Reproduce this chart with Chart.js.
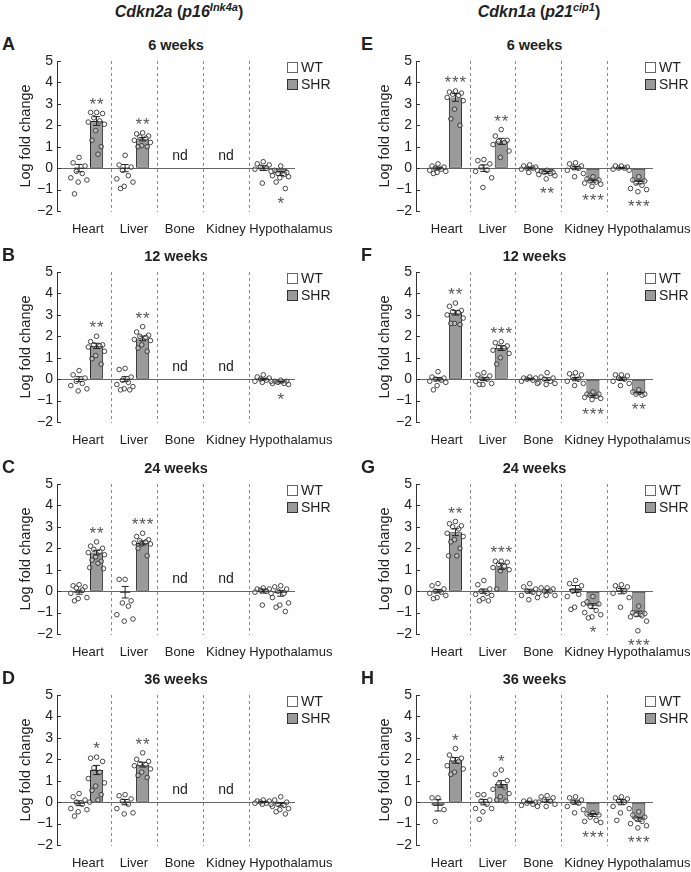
<!DOCTYPE html>
<html>
<head>
<meta charset="utf-8">
<script src="https://cdn.jsdelivr.net/npm/chart.js@4.4.1/dist/chart.umd.min.js"></script>
<style>
body { margin: 0; background: #fff; font-family: "Liberation Sans", Arial, Helvetica, sans-serif; color: #222; }
#page { position: relative; width: 691px; height: 872px; overflow: hidden; }
canvas { position: absolute; }
.lbl { position: absolute; line-height: 1; white-space: nowrap; }
.head { font-size: 16px; font-weight: bold; transform: translateX(-50%); }
.head sup { font-size: 11px; vertical-align: 6px; line-height: 0; }
.letter { font-size: 18px; font-weight: bold; }
.title { font-size: 14.5px; font-weight: bold; transform: translateX(-50%); }
</style>
</head>
<body>
<div id="page"></div>
<script>
const tissues = ["Heart", "Liver", "Bone", "Kidney", "Hypothalamus"];
const yTicks = [-2, -1, 0, 1, 2, 3, 4, 5];

// A - Cdkn2a, 6 weeks
const aWtMean = [0, 0, null, null, 0];
const aShrMean = [2.2, 1.35, null, null, -0.25];
const aWtPts = [
  [0.5, 0.25, 0.1, -0.15, -0.25, -0.45, -0.55, -0.65, -1.2],
  [0.6, 0.15, 0.05, -0.1, -0.35, -0.5, -0.65, -0.85, -0.95],
  null, null,
  [0.3, 0.2, 0.15, 0.05, 0, -0.05, -0.15, -0.7]
];
const aShrPts = [
  [2.6, 2.6, 2.55, 2.35, 2.2, 2.15, 2.05, 1.75, 1.3, 1.0, 0.65],
  [1.65, 1.6, 1.5, 1.45, 1.4, 1.3, 1.2, 1.05, 1.0, 1.0],
  null, null,
  [0.1, -0.1, -0.2, -0.25, -0.3, -0.35, -0.4, -0.45, -0.65, -0.95]
];
const aStars = ["**", "**", "", "", "*"];

// B - Cdkn2a, 12 weeks
const bWtMean = [0, 0, null, null, 0];
const bShrMean = [1.55, 1.9, null, null, -0.15];
const bWtPts = [
  [0.4, 0.2, 0.05, -0.1, -0.2, -0.3, -0.45, -0.55],
  [0.5, 0.45, 0.1, -0.05, -0.15, -0.25, -0.35, -0.45, -0.5, -0.5],
  null, null,
  [0.2, 0.1, 0.05, 0, -0.05, -0.1, -0.1, -0.15]
];
const bShrPts = [
  [2.0, 1.75, 1.6, 1.6, 1.55, 1.5, 1.3, 1.1, 0.95, 0.7],
  [2.45, 2.2, 2.05, 2.0, 1.95, 1.85, 1.8, 1.6, 1.45, 1.3],
  null, null,
  [-0.05, -0.1, -0.1, -0.15, -0.2, -0.2, -0.25]
];
const bStars = ["**", "**", "", "", "*"];

// C - Cdkn2a, 24 weeks
const cWtMean = [-0.05, -0.05, null, null, 0];
const cShrMean = [1.8, 2.25, null, null, -0.1];
const cWtPts = [
  [0.3, 0.25, 0.2, 0.15, 0.05, -0.1, -0.3, -0.35, -0.45],
  [0.55, 0.55, -0.45, -0.55, -0.7, -1.1, -1.3, -1.4],
  null, null,
  [0.15, 0.1, 0.1, 0.05, 0, -0.05, -0.1, -0.65]
];
const cShrPts = [
  [2.3, 2.1, 2.0, 1.95, 1.85, 1.8, 1.7, 1.6, 1.45, 1.4, 1.3, 1.1, 1.05],
  [2.7, 2.55, 2.4, 2.35, 2.3, 2.25, 2.2, 2.2, 2.0, 1.65],
  null, null,
  [0.25, 0.2, 0.1, 0, -0.1, -0.3, -0.55, -0.65, -0.75, -0.95]
];
const cStars = ["**", "***", "", "", ""];

// D - Cdkn2a, 36 weeks
const dWtMean = [-0.05, 0, null, null, 0];
const dShrMean = [1.5, 1.75, null, null, -0.1];
const dWtPts = [
  [0.4, 0.25, 0.1, 0, -0.1, -0.3, -0.35, -0.45, -0.65],
  [0.35, 0.3, 0.15, 0.05, -0.1, -0.3, -0.5, -0.55],
  null, null,
  [0.1, 0.05, 0.05, 0, -0.05, -0.05, -0.1, -0.1]
];
const dShrPts = [
  [2.1, 2.05, 1.9, 1.6, 1.4, 1.1, 0.9, 0.75, 0.55, 0.35, 0.1, 0],
  [2.3, 2.0, 1.9, 1.8, 1.75, 1.7, 1.55, 1.4, 1.25, 1.15],
  null, null,
  [0.25, 0.1, 0, -0.1, -0.15, -0.2, -0.3, -0.35, -0.45, -0.55]
];
const dStars = ["*", "**", "", "", ""];

// E - Cdkn1a, 6 weeks
const eWtMean = [0, 0, 0, 0, 0];
const eShrMean = [3.3, 1.25, -0.2, -0.6, -0.65];
const eWtPts = [
  [0.2, 0.1, 0.05, 0, -0.05, -0.1, -0.15, -0.2, -0.25],
  [0.4, 0.35, 0.2, 0.05, -0.1, -0.15, -0.45, -0.9],
  [0.15, 0.1, 0.05, 0, 0, -0.05, -0.1, -0.2],
  [0.25, 0.2, 0.1, 0.05, 0, -0.1, -0.25, -0.4],
  [0.1, 0.1, 0.05, 0, 0, -0.05, -0.1]
];
const eShrPts = [
  [3.6, 3.55, 3.5, 3.45, 3.4, 3.3, 3.15, 2.75, 2.3, 2.0],
  [1.8, 1.5, 1.3, 1.25, 1.2, 1.1, 0.8, 0.5],
  [-0.1, -0.15, -0.2, -0.2, -0.25, -0.3, -0.35, -0.5],
  [-0.4, -0.5, -0.55, -0.6, -0.65, -0.7, -0.75, -0.85],
  [-0.4, -0.55, -0.6, -0.7, -0.8, -0.95, -1.0, -1.1]
];
const eStars = ["***", "**", "**", "***", "***"];

// F - Cdkn1a, 12 weeks
const fWtMean = [0, 0, 0, 0, 0];
const fShrMean = [3.1, 1.45, 0, -0.8, -0.65];
const fWtPts = [
  [0.35, 0.1, 0.05, 0, -0.05, -0.1, -0.15, -0.3, -0.5],
  [0.3, 0.2, 0.15, 0.05, 0, -0.1, -0.2, -0.25, -0.25],
  [0.1, 0.05, 0.05, 0, -0.05, -0.1, -0.2],
  [0.3, 0.25, 0.2, 0.1, 0, -0.1, -0.2, -0.3],
  [0.2, 0.2, 0.15, 0.05, 0, -0.1, -0.2, -0.3]
];
const fShrPts = [
  [3.55, 3.4, 3.2, 3.15, 3.1, 3.0, 2.85, 2.6, 2.6, 2.55],
  [1.75, 1.7, 1.55, 1.5, 1.45, 1.35, 1.2, 1.0, 0.7],
  [0.3, 0.1, 0.05, 0, -0.1, -0.15, -0.2, -0.25],
  [-0.6, -0.7, -0.7, -0.75, -0.8, -0.85, -0.9, -0.95],
  [-0.5, -0.6, -0.7, -0.7, -0.75]
];
const fStars = ["**", "***", "", "***", "**"];

// G - Cdkn1a, 24 weeks
const gWtMean = [0, 0, 0, 0.1, 0];
const gShrMean = [2.75, 1.15, 0, -0.7, -1.05];
const gWtPts = [
  [0.35, 0.25, 0.1, 0, -0.05, -0.1, -0.2, -0.3, -0.35],
  [0.5, 0.3, 0.1, 0, -0.1, -0.15, -0.2, -0.35, -0.45, -0.45],
  [0.35, 0.2, 0.1, 0, -0.05, -0.2, -0.3, -0.4],
  [0.5, 0.35, 0.25, 0, -0.15, -0.25, -0.6, -0.75, -0.85],
  [0.3, 0.25, 0.2, 0.1, 0, -0.1, -0.3, -0.75]
];
const gShrPts = [
  [3.25, 3.15, 3.05, 3.0, 2.9, 2.7, 2.55, 2.4, 2.3, 2.0, 1.65, 1.65],
  [1.4, 1.4, 1.35, 1.25, 1.15, 1.1, 1.0, 0.95, 0.1],
  [0.15, 0.15, 0.1, 0, 0, -0.1, -0.2, -0.2],
  [-0.25, -0.5, -0.6, -0.7, -0.9, -1.0, -1.1, -1.2, -1.25],
  [-0.7, -1.0, -1.05, -1.1, -1.15, -1.2, -1.4, -1.85]
];
const gStars = ["**", "***", "", "*", "***"];

// H - Cdkn1a, 36 weeks
const hWtMean = [-0.15, 0, 0, 0, 0];
const hShrMean = [1.95, 0.85, 0.05, -0.6, -0.8];
const hWtPts = [
  [0.2, 0.2, -0.35, -0.9],
  [0.35, 0.35, 0.1, 0.05, -0.1, -0.3, -0.3, -0.45, -0.8],
  [0.1, 0.05, 0, -0.05, -0.1, -0.15, -0.2],
  [0.25, 0.2, 0.1, 0, -0.05, -0.2, -0.35, -0.5],
  [0.25, 0.2, 0.15, 0.05, 0, -0.2, -0.3, -0.5, -0.85]
];
const hShrPts = [
  [2.5, 2.2, 2.05, 2.0, 1.9, 1.7, 1.55, 1.4, 1.3],
  [1.5, 1.3, 1.0, 0.85, 0.7, 0.6, 0.4, 0.25, 0.1, 0.05],
  [0.3, 0.25, 0.2, 0.1, 0.05, 0, -0.1, -0.2],
  [-0.5, -0.55, -0.6, -0.7, -0.85, -0.9, -0.95],
  [-0.45, -0.6, -0.7, -0.75, -0.9, -1.0, -1.1, -1.2]
];
const hStars = ["*", "*", "", "***", "***"];

const panels = [
  { letter: "A", title: "6 weeks", col: 0, row: 0, wtMean: aWtMean, shrMean: aShrMean, wtPts: aWtPts, shrPts: aShrPts, stars: aStars },
  { letter: "B", title: "12 weeks", col: 0, row: 1, wtMean: bWtMean, shrMean: bShrMean, wtPts: bWtPts, shrPts: bShrPts, stars: bStars },
  { letter: "C", title: "24 weeks", col: 0, row: 2, wtMean: cWtMean, shrMean: cShrMean, wtPts: cWtPts, shrPts: cShrPts, stars: cStars },
  { letter: "D", title: "36 weeks", col: 0, row: 3, wtMean: dWtMean, shrMean: dShrMean, wtPts: dWtPts, shrPts: dShrPts, stars: dStars },
  { letter: "E", title: "6 weeks", col: 1, row: 0, wtMean: eWtMean, shrMean: eShrMean, wtPts: eWtPts, shrPts: eShrPts, stars: eStars },
  { letter: "F", title: "12 weeks", col: 1, row: 1, wtMean: fWtMean, shrMean: fShrMean, wtPts: fWtPts, shrPts: fShrPts, stars: fStars },
  { letter: "G", title: "24 weeks", col: 1, row: 2, wtMean: gWtMean, shrMean: gShrMean, wtPts: gWtPts, shrPts: gShrPts, stars: gStars },
  { letter: "H", title: "36 weeks", col: 1, row: 3, wtMean: hWtMean, shrMean: hShrMean, wtPts: hWtPts, shrPts: hShrPts, stars: hStars }
];

// layout of the two columns (pixels); right canvas runs past the page edge so
// the last tick label does not squeeze the plot
const cols = [
  { left: 0, width: 345, yw: 57, padR: 50, titlePad: 17, letterX: 2, headX: 179,
    head: '<i>Cdkn2a</i> (<i>p16<sup>Ink4a</sup></i>)' },
  { left: 345, width: 370, yw: 71, padR: 62, titlePad: 31, letterX: 361, headX: 539,
    head: '<i>Cdkn1a</i> (<i>p21<sup>cip1</sup></i>)' }
];
const rowY = r => 61 + r * 211.3; // pixel of the y=5 tick
const side = 0.19;
const jitter = [0, -0.13, 0.13, -0.06, 0.07, -0.18, 0.17, -0.02, -0.1, 0.1, 0.03, -0.15, 0.15];
const FONT = '"Liberation Sans", Arial, Helvetica, sans-serif';

Chart.defaults.font.family = FONT;
Chart.defaults.color = "#222";

function sem(pts) {
  const n = pts.length;
  const m = pts.reduce((a, b) => a + b, 0) / n;
  const sd = Math.sqrt(pts.reduce((a, b) => a + (b - m) * (b - m), 0) / (n - 1));
  return sd / Math.sqrt(n);
}

const page = document.getElementById("page");

function addLabel(cls, html, x, y) {
  const d = document.createElement("div");
  d.className = "lbl " + cls;
  d.innerHTML = html;
  d.style.left = x + "px";
  d.style.top = y + "px";
  page.appendChild(d);
}

cols.forEach(c => addLabel("head", c.head, c.headX, 4));

const decor = {
  id: "decor",
  beforeDatasetsDraw(chart) {
    const { ctx, chartArea: ca, scales: { x, y } } = chart;
    ctx.save();
    // dashed separators between tissues
    ctx.strokeStyle = "#8a8a8a";
    ctx.lineWidth = 1;
    ctx.setLineDash([3, 3]);
    for (let g = 0; g < tissues.length - 1; g++) {
      const px = Math.round(x.getPixelForValue(g + 0.5)) + 0.5;
      ctx.beginPath();
      ctx.moveTo(px, ca.top);
      ctx.lineTo(px, ca.bottom + 1);
      ctx.stroke();
    }
    ctx.setLineDash([]);
    // inward tick marks on the y axis
    ctx.strokeStyle = "#333";
    yTicks.forEach(v => {
      const py = Math.round(y.getPixelForValue(v)) + 0.5;
      ctx.beginPath();
      ctx.moveTo(ca.left, py);
      ctx.lineTo(ca.left + 4, py);
      ctx.stroke();
    });
    ctx.restore();
  },
  afterDatasetsDraw(chart) {
    const { ctx, chartArea: ca, scales: { x, y } } = chart;
    const p = chart.options.panel;
    ctx.save();
    // error bars
    ctx.strokeStyle = "#222";
    ctx.lineWidth = 1;
    [0, 1].forEach(di => {
      const ds = chart.data.datasets[di];
      ds.data.forEach((d, i) => {
        const px = x.getPixelForValue(d.x);
        const e = ds.errors[i];
        const top = y.getPixelForValue(d.y + e);
        const bot = y.getPixelForValue(d.y - e);
        const mid = y.getPixelForValue(d.y);
        ctx.beginPath();
        ctx.moveTo(px, top); ctx.lineTo(px, bot);
        ctx.moveTo(px - 3.5, top); ctx.lineTo(px + 3.5, top);
        ctx.moveTo(px - 3.5, bot); ctx.lineTo(px + 3.5, bot);
        if (di === 0) { ctx.moveTo(px - 5, mid); ctx.lineTo(px + 5, mid); }
        ctx.stroke();
      });
    });
    // significance stars and "nd"
    ctx.textAlign = "center";
    tissues.forEach((t, g) => {
      if (p.shrMean[g] === null) {
        ctx.font = "14px " + FONT;
        ctx.textBaseline = "middle";
        ctx.fillStyle = "#222";
        ctx.fillText("nd", x.getPixelForValue(g), y.getPixelForValue(0.55));
        return;
      }
      const s = p.stars[g];
      if (!s) return;
      const pts = p.shrPts[g];
      const v = p.shrMean[g] >= 0 ? Math.max(...pts) + 0.6 : Math.min(...pts) - 0.47;
      const cx = x.getPixelForValue(g + side);
      const cy = y.getPixelForValue(v);
      ctx.font = "17px " + FONT;
      ctx.textBaseline = "alphabetic";
      ctx.fillStyle = "#555";
      for (let k = 0; k < s.length; k++) {
        ctx.fillText("*", cx + (k - (s.length - 1) / 2) * 7.5, cy + 10);
      }
    });
    // legend
    const lx = ca.right - 8;
    [["WT", "#ffffff", "#666"], ["SHR", "#9a9a9a", "#333"]].forEach(([name, fill, stroke], k) => {
      const ty = ca.top + 1 + k * 17;
      ctx.fillStyle = fill;
      ctx.fillRect(lx, ty, 11, 11);
      ctx.strokeStyle = stroke;
      ctx.strokeRect(lx + 0.5, ty + 0.5, 10, 10);
      ctx.fillStyle = "#222";
      ctx.font = "14px " + FONT;
      ctx.textAlign = "left";
      ctx.textBaseline = "middle";
      ctx.fillText(name, lx + 14, ty + 6);
    });
    ctx.restore();
  }
};

panels.forEach(p => {
  const c = cols[p.col];
  const y5 = rowY(p.row);
  addLabel("letter", p.letter, c.letterX, y5 - 26);
  addLabel("title", p.title, c.left + c.yw + (c.width - c.padR - c.yw) / 2, y5 - 23);

  const cv = document.createElement("canvas");
  cv.width = c.width;
  cv.height = 215;
  cv.style.left = c.left + "px";
  cv.style.top = (y5 - 30) + "px";
  page.appendChild(cv);

  const wtBars = [], shrBars = [], wtErr = [], shrErr = [], wtDots = [], shrDots = [];
  tissues.forEach((t, g) => {
    if (p.wtMean[g] !== null) {
      wtBars.push({ x: g - side, y: p.wtMean[g] });
      wtErr.push(sem(p.wtPts[g]));
      p.wtPts[g].forEach((v, i) => wtDots.push({ x: g - side + jitter[i % jitter.length], y: v }));
    }
    if (p.shrMean[g] !== null) {
      shrBars.push({ x: g + side, y: p.shrMean[g] });
      shrErr.push(sem(p.shrPts[g]));
      p.shrPts[g].forEach((v, i) => shrDots.push({ x: g + side + jitter[i % jitter.length], y: v }));
    }
  });

  const barStyle = { borderColor: "#222", borderWidth: 1, borderSkipped: false, grouped: false,
    barPercentage: 0.75, categoryPercentage: 1, order: 3 };
  const dotStyle = { type: "scatter", showLine: false, pointRadius: 2.3, pointBorderWidth: 0.9,
    pointBorderColor: "#333", pointBackgroundColor: "rgba(255,255,255,0.35)", order: 1, clip: false };

  new Chart(cv, {
    type: "bar",
    data: {
      datasets: [
        Object.assign({ label: "WT", data: wtBars, backgroundColor: "#ffffff", errors: wtErr }, barStyle),
        Object.assign({ label: "SHR", data: shrBars, backgroundColor: "#9a9a9a", errors: shrErr }, barStyle),
        Object.assign({ label: "WT points", data: wtDots }, dotStyle),
        Object.assign({ label: "SHR points", data: shrDots }, dotStyle)
      ]
    },
    options: {
      panel: p,
      responsive: false,
      animation: false,
      events: [],
      layout: { padding: { top: 30, right: c.padR, bottom: 0, left: 0 } },
      plugins: { legend: { display: false }, tooltip: { enabled: false } },
      scales: {
        x: {
          type: "linear", min: -0.67, max: 4.5, offset: false,
          afterBuildTicks: s => { s.ticks = tissues.map((t, i) => ({ value: i === 4 ? 4.41 : i })); },
          ticks: { autoSkip: false, maxRotation: 0, minRotation: 0, padding: 11, color: "#222",
            font: { size: 13 }, callback: (v, i) => tissues[i] },
          grid: { display: false, drawTicks: false },
          border: { display: false },
          afterFit: s => { s.height = 35; }
        },
        y: {
          min: -2, max: 5,
          afterBuildTicks: s => { s.ticks = yTicks.map(v => ({ value: v })); },
          ticks: { padding: 4, color: "#222", font: { size: 14 },
            callback: v => String(v).replace("-", "\u2212") },
          grid: { drawTicks: false, lineWidth: 1,
            color: ctx => (ctx.tick && ctx.tick.value === 0 ? "#666" : "rgba(0,0,0,0)") },
          border: { display: true, color: "#333", width: 1 },
          title: { display: true, text: "Log fold change", color: "#222", font: { size: 14.5 },
            padding: { top: c.titlePad, bottom: 0 } },
          afterFit: s => { s.width = c.yw; }
        }
      }
    },
    plugins: [decor]
  });
});
</script>
</body>
</html>
